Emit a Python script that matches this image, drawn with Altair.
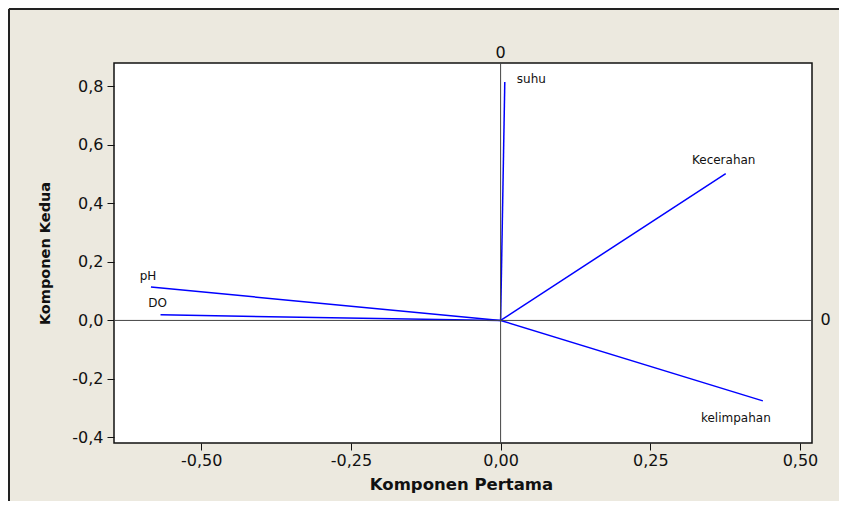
import altair as alt
import pandas as pd

# ---- data (PCA loading plot) ----
variables = ["suhu", "Kecerahan", "pH", "DO", "kelimpahan"]
pc1 = [0.007, 0.376, -0.584, -0.568, 0.438]
pc2 = [0.815, 0.502, 0.114, 0.019, -0.275]
x_ticks = [-0.50, -0.25, 0.0, 0.25, 0.50]
y_ticks = [-0.4, -0.2, 0.0, 0.2, 0.4, 0.6, 0.8]

df = pd.DataFrame({"var": variables, "pc1": pc1, "pc2": pc2})
one = pd.DataFrame({"z": [0]})

FONT = "DejaVu Sans"
BG = "#ECE9DF"
INK = "#111111"
W, H = 698, 380

xscale = alt.Scale(domain=[-0.6457, 0.5201], nice=False, zero=False)
yscale = alt.Scale(domain=[-0.419, 0.880], nice=False, zero=False)


def lbl(fmt):
    return ("(datum.value < 0 ? '-' : '') + "
            f"replace(format(abs(datum.value), '{fmt}'), '.', ',')")


xaxis = alt.Axis(values=x_ticks, labelExpr=lbl(".2f"), title="Komponen Pertama",
                 grid=False, domain=False, ticks=True, tickSize=7, tickColor=INK,
                 tickWidth=1, labelFont=FONT, labelFontSize=16, labelColor=INK,
                 labelPadding=2, labelFlush=False, titleFont=FONT,
                 titleFontSize=16.5, titleFontWeight="bold", titleColor=INK,
                 titleX=347, titleY=33, titleBaseline="top", titleAlign="center")
yaxis = alt.Axis(values=y_ticks, labelExpr=lbl(".1f"), title="Komponen Kedua",
                 grid=False, domain=False, ticks=True, tickSize=7, tickColor=INK,
                 tickWidth=1, labelFont=FONT, labelFontSize=16, labelColor=INK,
                 labelPadding=4, labelFlush=False, titleFont=FONT,
                 titleFontSize=14.5, titleFontWeight="bold", titleColor=INK,
                 titleX=-69, titleY=190, titleAngle=270, titleBaseline="middle",
                 titleAlign="center")

X = alt.X("pc1:Q", scale=xscale, axis=xaxis)
Y = alt.Y("pc2:Q", scale=yscale, axis=yaxis)

# outer graph-region border (only its left and top edges are inside the window)
frame_left = alt.Chart(one).mark_rule(color="#222222", strokeWidth=2).encode(
    x=alt.value(-105), y=alt.value(-54), y2=alt.value(600))
frame_top = alt.Chart(one).mark_rule(color="#222222", strokeWidth=2).encode(
    x=alt.value(-105), x2=alt.value(900), y=alt.value(-54))

vline = alt.Chart(one).mark_rule(color="#444444", strokeWidth=1).encode(
    x=alt.datum(0, scale=xscale))
hline = alt.Chart(one).mark_rule(color="#444444", strokeWidth=1).encode(
    y=alt.datum(0, scale=yscale))

top0 = alt.Chart(one).mark_text(font=FONT, fontSize=16, color=INK, baseline="middle",
                                align="center").encode(
    x=alt.datum(0, scale=xscale), y=alt.value(-10), text=alt.value("0"))
right0 = alt.Chart(one).mark_text(font=FONT, fontSize=16, color=INK, baseline="middle",
                                  align="center").encode(
    x=alt.value(711.5), y=alt.datum(0, scale=yscale), text=alt.value("0"))

loadings = alt.Chart(df).mark_rule(color="#0000FF", strokeWidth=1.5).encode(
    x=X, y=Y, x2=alt.datum(0), y2=alt.datum(0))

label_style = {
    "suhu": dict(align="left", dx=12, dy=1),
    "Kecerahan": dict(align="center", dx=-2, dy=-10),
    "pH": dict(align="center", dx=-3, dy=-7),
    "DO": dict(align="center", dx=-3, dy=-8),
    "kelimpahan": dict(align="center", dx=-27, dy=21),
}
labels = [
    alt.Chart(df).transform_filter(alt.FieldEqualPredicate(field="var", equal=v))
    .mark_text(font=FONT, fontSize=12, color=INK, baseline="alphabetic", **st)
    .encode(x=X, y=Y, text="var:N")
    for v, st in label_style.items()
]

chart = alt.layer(loadings, frame_left, frame_top, vline, hline, top0, right0,
                  *labels).properties(
    width=W, height=H, background=BG,
    padding={"left": 106, "top": 55, "right": 27, "bottom": 58},
    autosize=alt.AutoSizeParams(type="none"),
).configure_view(fill="white", stroke=INK, strokeWidth=1.5)

chart.save("out.html", embed_options={"renderer": "svg", "actions": False})
